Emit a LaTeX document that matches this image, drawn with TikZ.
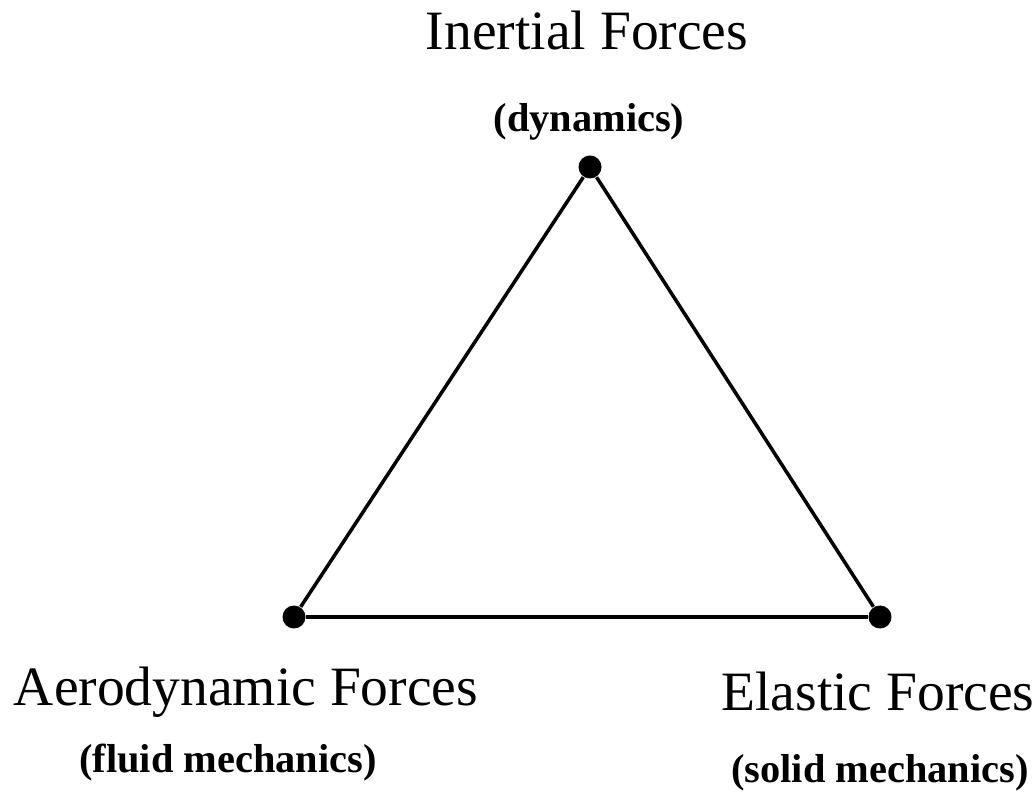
\documentclass[tikz,border=0pt]{standalone}
\usepackage{fontspec}
\setmainfont{Liberation Serif}
\usepackage{tikz}

\begin{document}
\begin{tikzpicture}[
    vertex/.style={circle,fill=black,inner sep=0pt,minimum size=0.23cm},
    force/.style={anchor=base,font=\fontsize{15.8}{18}\selectfont},
    field/.style={anchor=base,font=\fontsize{11.5}{14}\selectfont\bfseries}]
    \useasboundingbox (0,0) rectangle (10.34,7.91);
    \node[vertex] (inertial) at (5.90,6.24) {};
    \node[vertex] (aero) at (2.94,1.74) {};
    \node[vertex] (elastic) at (8.80,1.74) {};
    \draw[line width=1pt] (inertial) -- (aero) -- (elastic) -- (inertial);
    \node[force] (inertialtxt) at (5.87,7.41) {Inertial Forces};
    \node[field] (inertialsub) at (5.89,6.59) {(dynamics)};
    \node[force] (aerotxt) at (2.46,0.86) {Aerodynamic Forces};
    \node[field] (aerosub) at (2.28,0.19) {(fluid mechanics)};
    \node[force] (elastictxt) at (8.78,0.81) {Elastic Forces};
    \node[field] (elasticsub) at (8.80,0.09) {(solid mechanics)};
  \end{tikzpicture}
\end{document}
